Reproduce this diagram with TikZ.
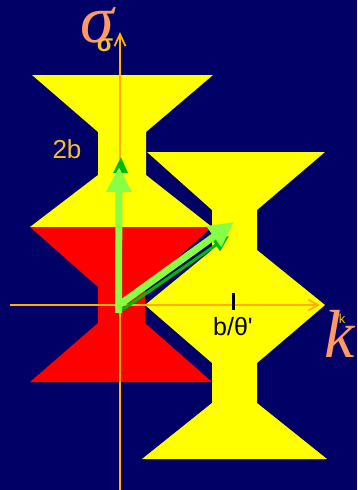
\documentclass[tikz,border=0pt]{standalone}
\usepackage{fontspec}
\setmainfont{Liberation Serif}
\newfontfamily\lsans{Liberation Sans}
\usetikzlibrary{arrows.meta}
\definecolor{bgnavy}{HTML}{000066}
\definecolor{shapeyellow}{HTML}{FFFF00}
\definecolor{shapered}{HTML}{FF0000}
\definecolor{axisc}{HTML}{FFB000}
\definecolor{goldtext}{HTML}{F0C030}
\definecolor{salmon}{HTML}{FF9966}
\definecolor{lgreen}{HTML}{88FF44}
\definecolor{dgreen}{HTML}{00BB00}
\begin{document}
\begin{tikzpicture}[x=1pt,y=-1pt,
  axisline/.style={draw=axisc, line width=1.8pt},
  garrow/.style={draw=lgreen, line width=7pt, -{Triangle[length=25pt,width=24pt]}},
  shadowarrow/.style={draw=dgreen, line width=3pt, -{Triangle[length=16pt,width=14pt]}},
  biglabel/.style={text=salmon, font=\fontsize{68}{68}\selectfont\itshape, inner sep=0pt, anchor=base},
  goldlabel/.style={text=goldtext, font=\lsans\fontsize{26}{26}\selectfont, inner sep=0pt},
  blacklabel/.style={text=black, font=\lsans\fontsize{25}{25}\selectfont, inner sep=0pt}]
\useasboundingbox (0,0) rectangle (357,490);
\fill[bgnavy] (0,0) rectangle (357,490);
% left yellow hourglass
\fill[shapeyellow] (32,75) -- (213,75) -- (146,132) -- (146,175) -- (212,227)
  -- (30,227) -- (98,175) -- (98,132) -- cycle;
% red hourglass
\fill[shapered] (30,227) -- (212,227) -- (145,287) -- (145,323) -- (212,382)
  -- (30,382) -- (98,323) -- (98,287) -- cycle;
% right yellow shape
\fill[shapeyellow] (147,152) -- (325,152) -- (257,210) -- (257,250) -- (325,305)
  -- (257,363) -- (257,403) -- (327,459) -- (142,459) -- (212,403) -- (212,363)
  -- (145,305) -- (212,250) -- (212,210) -- cycle;
% axes
\coordinate (vbot) at (120,490);
\coordinate (vtop) at (120,32);
\coordinate (hleft) at (10,305);
\coordinate (hright) at (320,305);
\draw[axisline, -{Straight Barb[length=12pt,width=11pt]}] (vbot) -- (vtop);
\draw[axisline, -{Straight Barb[length=10pt,width=11pt]}] (hleft) -- (hright);
% tick
\coordinate (tickA) at (233,293);
\coordinate (tickB) at (233,310);
\draw[black, line width=3pt] (tickA) -- (tickB);
% green arrows
\coordinate (O) at (118.5,313);
\coordinate (Od) at (119,305);
\coordinate (vt) at (119,167);
\coordinate (dt) at (234,222);
\coordinate (vs1) at (120,200);
\coordinate (vs2) at (121,157);
\coordinate (ds1) at (122,310);
\coordinate (ds2) at (229,236);
\draw[shadowarrow] (vs1) -- (vs2);
\draw[shadowarrow] (ds1) -- (ds2);
\draw[garrow] (O) -- (vt);
\draw[garrow] (Od) -- (dt);
% labels
\node[biglabel] (sigma) at (97,42) {σ};
\node[biglabel] (kay) at (340,357) {k};
\node[text=goldtext, font=\lsans\bfseries\fontsize{24}{24}\selectfont, inner sep=0pt, anchor=base] (sigsmall) at (105,51) {σ};
\node[text=goldtext, font=\lsans\fontsize{13}{13}\selectfont, inner sep=0pt] (ksmall) at (342,319) {k};
\node[goldlabel] (twob) at (67,149) {2b};
\node[blacklabel] (bth) at (233,327) {b/θ'};
\end{tikzpicture}
\end{document}
